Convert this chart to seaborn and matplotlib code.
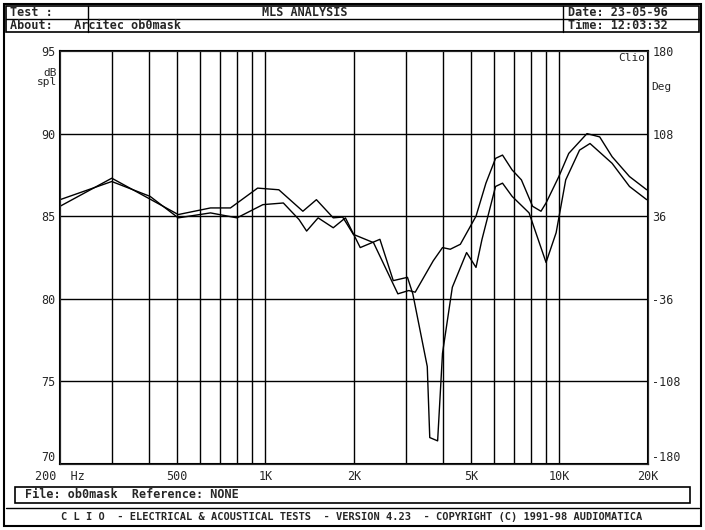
import matplotlib
matplotlib.use("Agg")
import matplotlib.pyplot as plt
import seaborn as sns
import pandas as pd
from matplotlib.patches import Rectangle

sns.set_style("white")
plt.rcParams['font.family'] = ['DejaVu Sans Mono', 'DejaVu Sans']

freq_a = [200, 300, 405, 505, 650, 800, 980, 1150, 1300, 1380, 1510, 1700, 1870, 2100, 2450, 2720, 3040,
          3170, 3550, 3620, 3850, 4000, 4320, 4830, 5200, 5450, 6060, 6400, 6900, 7880, 9000, 9740,
          10500, 11700, 12700, 15100, 17300, 19800]
spl_a = [86.0, 87.1, 86.2, 84.9, 85.2, 84.9, 85.7, 85.8, 84.8, 84.1, 84.9, 84.3, 84.9, 83.1, 83.6, 81.1, 81.3,
         80.3, 75.9, 71.6, 71.4, 76.7, 80.7, 82.8, 81.9, 83.6, 86.8, 87.0, 86.2, 85.2, 82.2, 84.0,
         87.2, 89.0, 89.4, 88.2, 86.8, 86.0]
freq_b = [200, 300, 505, 650, 760, 940, 1110, 1340, 1490, 1700, 1830, 1990, 2330, 2820, 3070, 3230, 3720,
          4000, 4250, 4600, 5200, 5620, 6060, 6400, 6900, 7420, 8100, 8650, 9000, 9950, 10750, 12400,
          13700, 15100, 17300, 19800]
spl_b = [85.6, 87.3, 85.1, 85.5, 85.5, 86.7, 86.6, 85.3, 86.0, 84.9, 84.95, 83.9, 83.4, 80.3, 80.5, 80.4, 82.3,
         83.1, 83.0, 83.3, 85.0, 87.0, 88.5, 88.7, 87.8, 87.2, 85.6, 85.3, 85.8, 87.4, 88.8, 90.0,
         89.8, 88.6, 87.4, 86.6]
vgrid = [300, 400, 500, 600, 700, 800, 900, 1000, 2000, 3000, 4000, 5000, 6000, 7000, 8000, 9000, 10000]
xticks = [200, 500, 1000, 2000, 5000, 10000, 20000]
xlabels = ["200  Hz", "500", "1K", "2K", "5K", "10K", "20K"]
yticks = [70, 75, 80, 85, 90, 95]
deg_labels = ["-180", "-108", "-36", "36", "108", "180"]

W, H = 705, 530
fig = plt.figure(figsize=(7.05, 5.3), dpi=100)
ax = fig.add_axes([60/W, (H-464)/H, 588/W, 413/H])

df = pd.concat([pd.DataFrame({"f": freq_a, "db": spl_a, "s": "a"}),
                pd.DataFrame({"f": freq_b, "db": spl_b, "s": "b"})])
sns.lineplot(data=df, x="f", y="db", units="s", estimator=None, color="black", lw=1.0, ax=ax, legend=False)
ax.set_xscale("log")
ax.set_xlim(200, 20000)
ax.set_ylim(70, 95)
for v in vgrid:
    ax.axvline(v, color="black", lw=1.0, zorder=0)
for y in [75, 80, 85, 90]:
    ax.axhline(y, color="black", lw=1.0, zorder=0)
ax.set_xticks(xticks)
ax.set_xticklabels(xlabels)
ax.minorticks_off()
ax.set_yticks(yticks)
ax.set_yticklabels([str(t) for t in yticks])
ax.tick_params(axis="x", length=0, labelsize=8.5, pad=4)
ax.tick_params(axis="y", length=0, labelsize=8.5, pad=3)
ax.set_xlabel(""); ax.set_ylabel("")
for s in ax.spines.values():
    s.set_color("black"); s.set_linewidth(1.5)
ax2 = ax.twinx()
ax2.set_ylim(-180, 180)
ax2.set_yticks([-180, -108, -36, 36, 108, 180])
ax2.set_yticklabels(deg_labels)
ax2.tick_params(length=0, labelsize=8.5, pad=3)
for lab in ax.get_yticklabels()[:1] + ax2.get_yticklabels()[:1]:
    lab.set_va("bottom")
ax.text(-0.005, 0.96, "dB\nspl", transform=ax.transAxes, ha="right", va="top", fontsize=8, linespacing=0.9)
ax2.text(1.005, 0.925, "Deg", transform=ax.transAxes, ha="left", va="top", fontsize=8)
ax2.text(0.995, 0.995, "Clio", transform=ax.transAxes, ha="right", va="top", fontsize=8)

def px(x, y):
    return x / W, 1 - y / H

def box(x0, y0, x1, y1, lw=1.2):
    fig.add_artist(Rectangle((x0/W, 1-y1/H), (x1-x0)/W, (y1-y0)/H, transform=fig.transFigure,
                             fill=False, ec="black", lw=lw))

box(4, 4, 701, 526, 1.5)
box(6, 6, 699, 32)
fig.add_artist(plt.Line2D([6/W, 699/W], [1-19/H, 1-19/H], color="black", lw=1.0))
fig.add_artist(plt.Line2D([88/W, 88/W], [1-32/H, 1-6/H], color="black", lw=1.0))
fig.add_artist(plt.Line2D([563/W, 563/W], [1-32/H, 1-6/H], color="black", lw=1.0))
kw = dict(fontsize=8.5, fontweight="bold", va="center")
fig.text(*px(10, 12.5), "Test :", **kw)
fig.text(*px(10, 25.5), "About:   Arcitec ob0mask", **kw)
fig.text(*px(305, 12.5), "MLS ANALYSIS", ha="center", **kw)
fig.text(*px(568, 12.5), "Date: 23-05-96", **kw)
fig.text(*px(568, 25.5), "Time: 12:03:32", **kw)
box(15, 487, 690, 503)
fig.text(*px(25, 495), "File: ob0mask  Reference: NONE", **kw)
fig.add_artist(plt.Line2D([6/W, 699/W], [1-508/H, 1-508/H], color="black", lw=1.0))
fig.text(*px(352, 517), "C L I O  - ELECTRICAL & ACOUSTICAL TESTS  - VERSION 4.23  - COPYRIGHT (C) 1991-98 AUDIOMATICA",
         ha="center", fontsize=7.5, fontweight="bold", va="center")

fig.savefig("out.png", dpi=100)
